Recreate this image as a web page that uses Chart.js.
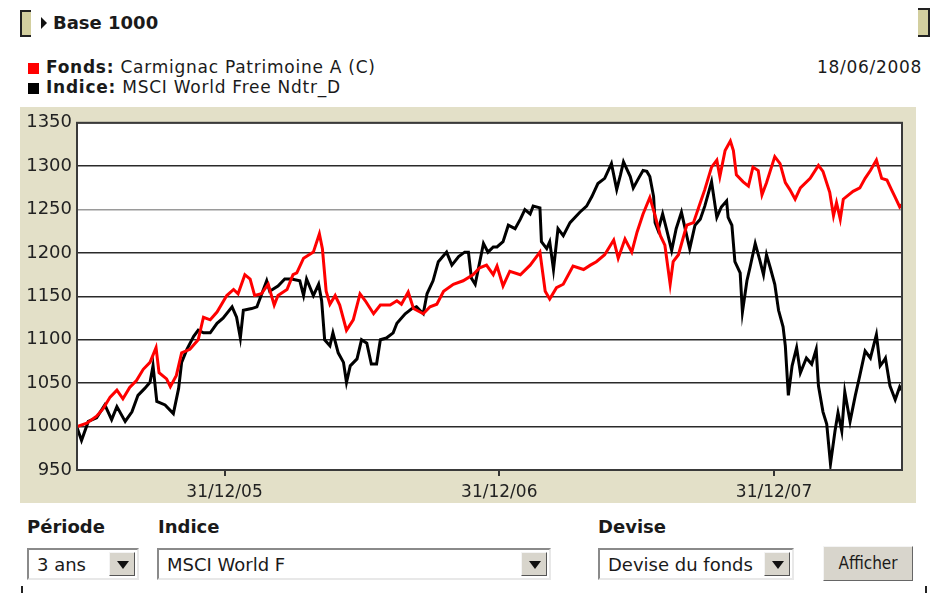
<!DOCTYPE html>
<html lang="fr">
<head>
<meta charset="utf-8">
<title>Base 1000</title>
<script src="https://cdn.jsdelivr.net/npm/chart.js@4.4.1/dist/chart.umd.min.js"></script>
<style>
    body {
        margin: 0;
        width: 941px;
        height: 607px;
        background: #fff;
        position: relative;
        overflow: hidden;
        font-family: "DejaVu Sans", Verdana, sans-serif;
        color: #1a1a1a;
    }
    .abs { position: absolute; white-space: nowrap; }
    .crochet-g { left: 20px; top: 10px; width: 9px; height: 23px; background: #d3cf9f; border: 2px solid #222; border-right: none; }
    .crochet-d { left: 918px; top: 8px; width: 10px; height: 25px; background: #d3cf9f; border: 2px solid #222; border-left: none; }
    .fleche { left: 41px; top: 17px; width: 0; height: 0; border-top: 6px solid transparent; border-bottom: 6px solid transparent; border-left: 6px solid #111; }
    .titre { left: 53px; top: 12px; font-weight: bold; font-size: 18px; }
    .leg { font-size: 17px; letter-spacing: 0.75px; left: 28px; }
    .leg b { font-weight: bold; }
    .carre { display: inline-block; width: 11px; height: 11px; margin-right: 7px; vertical-align: -1px; }
    .date { right: 19px; top: 57px; font-size: 17px; letter-spacing: 0.7px; }
    .panneau { left: 20px; top: 107px; width: 896px; height: 396px; }
    .lib { font-weight: bold; font-size: 18px; top: 516px; }
    .choix { top: 548px; height: 28px; background: #fff; border: 2px solid; border-color: #8a8a8a #e8e8e8 #e8e8e8 #8a8a8a;
             font-size: 18px; line-height: 30px; padding-left: 8px; box-sizing: content-box; }
    .btn-fl { position: absolute; right: 2px; top: 2px; width: 26px; height: 24px; background: #d8d5cc;
              border: 1px solid; border-color: #f4f4f4 #555 #555 #f4f4f4; box-sizing: border-box; }
    .btn-fl::after { content: ""; position: absolute; left: 7px; top: 8px; border-left: 6px solid transparent; border-right: 6px solid transparent; border-top: 8px solid #111; }
    .afficher { left: 823px; top: 546px; width: 90px; height: 35px; background: #d8d5cc; border: 1px solid; border-color: #f4f4f4 #666 #666 #f4f4f4;
                box-sizing: border-box; font-family: "DejaVu Sans Condensed", "DejaVu Sans", sans-serif; font-size: 17px; text-align: center; line-height: 33px; }
    .coin { width: 2px; height: 7px; background: #222; top: 586px; }
</style>
</head>
<body>
<div class="abs crochet-g"></div>
<div class="abs fleche"></div>
<div class="abs titre">Base 1000</div>
<div class="abs crochet-d"></div>

<div class="abs leg" style="top:57px"><span class="carre" style="background:#ff0000"></span><b>Fonds:</b> Carmignac Patrimoine A (C)</div>
<div class="abs leg" style="top:77px"><span class="carre" style="background:#000"></span><b>Indice:</b> MSCI World Free Ndtr_D</div>
<div class="abs date">18/06/2008</div>

<div class="abs panneau"><canvas id="graphique" width="896" height="396"></canvas></div>

<div class="abs lib" style="left:27px">Période</div>
<div class="abs lib" style="left:158px">Indice</div>
<div class="abs lib" style="left:598px">Devise</div>

<div class="abs choix" style="left:27px; width:100px">3 ans<span class="btn-fl"></span></div>
<div class="abs choix" style="left:157px; width:382px">MSCI World F<span class="btn-fl"></span></div>
<div class="abs choix" style="left:598px; width:184px">Devise du fonds<span class="btn-fl"></span></div>
<div class="abs afficher">Afficher</div>
<div class="abs coin" style="left:21px"></div>
<div class="abs coin" style="left:925px"></div>

<script>
// Base 1000 depuis le 18/06/2005 : abscisse en jours écoulés
const finPeriode = 1096;

// Etiquettes de l'axe des dates
const echeances = [196, 561, 926];
const etiquettesDates = ['31/12/05', '31/12/06', '31/12/07'];

// Graduations de l'axe vertical
const baseMin = 950;
const baseMax = 1350;
const pasBase = 50;

// Fonds : Carmignac Patrimoine A (C)
const joursFonds = [0, 13, 26, 35, 44, 53, 61, 70, 79, 88, 97, 105, 109, 119, 124, 132, 139, 150, 161, 168,
    177, 186, 199, 208, 214, 223, 230, 236, 245, 254, 262, 267, 279, 287, 292, 301, 314, 322, 326, 331,
    336, 343, 349, 358, 367, 376, 383, 394, 403, 416, 425, 431, 440, 447, 460, 469, 478, 487, 500, 513,
    526, 535, 544, 553, 558, 566, 575, 589, 602, 615, 622, 628, 637, 646, 659, 673, 682, 690, 701, 713,
    719, 728, 737, 744, 752, 761, 768, 775, 781, 788, 792, 799, 810, 819, 828, 834, 843, 850, 854, 861,
    868, 872, 876, 885, 892, 898, 905, 910, 916, 927, 934, 941, 947, 954, 961, 974, 985, 991, 1000, 1005,
    1009, 1014, 1018, 1031, 1040, 1047, 1054, 1062, 1069, 1076, 1082, 1087, 1093, 1096];
const fonds = [1000, 1004, 1012, 1021, 1034, 1042, 1032, 1045, 1053, 1066, 1074, 1091, 1062, 1055, 1046, 1059, 1085, 1089, 1100, 1126,
    1123, 1132, 1151, 1158, 1153, 1175, 1170, 1151, 1153, 1164, 1140, 1151, 1158, 1175, 1177, 1194, 1201, 1222, 1205, 1156,
    1141, 1151, 1140, 1111, 1123, 1153, 1145, 1130, 1140, 1140, 1145, 1141, 1155, 1136, 1130, 1138, 1141, 1156, 1164, 1168,
    1175, 1183, 1186, 1175, 1185, 1162, 1179, 1175, 1186, 1201, 1156, 1147, 1160, 1164, 1185, 1181, 1186, 1190, 1198, 1215,
    1194, 1216, 1201, 1224, 1245, 1264, 1243, 1220, 1209, 1164, 1190, 1198, 1232, 1235, 1258, 1273, 1299, 1307, 1288, 1318,
    1329, 1318, 1290, 1282, 1277, 1299, 1295, 1267, 1281, 1311, 1303, 1281, 1273, 1262, 1275, 1286, 1301, 1294, 1270, 1243,
    1258, 1239, 1262, 1271, 1275, 1286, 1295, 1307, 1286, 1284, 1273, 1264, 1253, 1256];

// Indice : MSCI World Free Ndtr_D
const joursIndice = [0, 6, 15, 26, 37, 46, 53, 64, 73, 81, 90, 97, 101, 106, 117, 128, 135, 139, 146, 155,
    161, 168, 177, 186, 194, 206, 212, 217, 221, 232, 239, 252, 256, 267, 276, 285, 296, 301, 305, 314,
    321, 325, 329, 336, 340, 347, 354, 358, 363, 372, 378, 385, 391, 398, 403, 411, 420, 425, 436, 445,
    451, 460, 465, 473, 480, 491, 498, 507, 515, 520, 524, 529, 540, 546, 553, 558, 566, 573, 582, 589,
    595, 602, 606, 615, 617, 624, 628, 633, 639, 646, 655, 668, 677, 684, 692, 701, 710, 717, 722, 726,
    735, 739, 746, 752, 757, 761, 766, 768, 772, 778, 783, 790, 796, 803, 810, 814, 821, 828, 834, 843,
    850, 856, 863, 865, 870, 874, 881, 884, 890, 894, 901, 907, 912, 916, 921, 927, 932, 938, 941, 945,
    950, 956, 961, 969, 976, 982, 985, 991, 996, 1001, 1007, 1011, 1016, 1020, 1027, 1034, 1040, 1047, 1054, 1062,
    1067, 1072, 1074, 1080, 1087, 1093, 1096];
const indice = [999, 984, 1006, 1010, 1025, 1008, 1023, 1006, 1017, 1036, 1044, 1051, 1070, 1029, 1025, 1015, 1044, 1074, 1089, 1104,
    1111, 1108, 1108, 1119, 1125, 1138, 1126, 1102, 1134, 1136, 1138, 1168, 1156, 1162, 1170, 1170, 1168, 1151, 1170, 1151,
    1164, 1145, 1100, 1093, 1108, 1085, 1074, 1051, 1070, 1078, 1100, 1096, 1072, 1072, 1100, 1102, 1108, 1119, 1130, 1136,
    1138, 1130, 1153, 1168, 1190, 1201, 1186, 1196, 1201, 1201, 1171, 1164, 1211, 1201, 1207, 1207, 1213, 1232, 1228, 1239,
    1250, 1245, 1254, 1252, 1213, 1205, 1213, 1181, 1228, 1220, 1235, 1247, 1254, 1265, 1280, 1286, 1303, 1273, 1290, 1305,
    1288, 1275, 1286, 1295, 1294, 1288, 1265, 1235, 1226, 1245, 1228, 1203, 1228, 1247, 1220, 1205, 1232, 1239, 1254, 1282,
    1241, 1253, 1260, 1241, 1232, 1190, 1177, 1132, 1168, 1183, 1211, 1192, 1175, 1198, 1183, 1164, 1134, 1115, 1093, 1036,
    1070, 1091, 1062, 1079, 1072, 1089, 1047, 1017, 1003, 957, 995, 1016, 995, 1040, 1006, 1036, 1059, 1087, 1079, 1106,
    1070, 1076, 1079, 1047, 1031, 1046, 1042];

const points = (jours, valeurs) => jours.map((j, i) => ({ x: j, y: valeurs[i] }));

// Fond beige du panneau et zone de tracé blanche avec cadre
const cadrePlugin = {
    id: 'cadre',
    beforeDraw(chart) {
        const { ctx, chartArea: a, width, height } = chart;
        ctx.save();
        ctx.fillStyle = '#e3e0c8';
        ctx.fillRect(0, 0, width, height);
        ctx.fillStyle = '#ffffff';
        ctx.fillRect(a.left, a.top, a.right - a.left, a.bottom - a.top);
        ctx.restore();
    },
    afterDraw(chart) {
        const { ctx, chartArea: a } = chart;
        ctx.save();
        ctx.strokeStyle = '#3a3a3a';
        ctx.lineWidth = 2;
        ctx.strokeRect(a.left, a.top, a.right - a.left, a.bottom - a.top);
        ctx.restore();
    }
};

new Chart(document.getElementById('graphique'), {
    type: 'line',
    data: {
        datasets: [
            {
                label: 'Fonds',
                data: points(joursFonds, fonds),
                borderColor: '#ff0000',
                borderWidth: 3,
                pointRadius: 0,
                tension: 0,
                order: 0
            },
            {
                label: 'Indice',
                data: points(joursIndice, indice),
                borderColor: '#000000',
                borderWidth: 3,
                pointRadius: 0,
                tension: 0,
                order: 1
            }
        ]
    },
    options: {
        responsive: false,
        animation: false,
        layout: { padding: { top: 8, right: 14, left: 0, bottom: 0 } },
        plugins: {
            legend: { display: false },
            tooltip: { enabled: false }
        },
        scales: {
            x: {
                type: 'linear',
                min: 0,
                max: finPeriode,
                afterBuildTicks(scale) {
                    scale.ticks = echeances.map(v => ({ value: v }));
                },
                afterFit(scale) { scale.height = 33; },
                grid: { drawOnChartArea: false, drawTicks: true, tickLength: 6, color: '#333', lineWidth: 2 },
                border: { display: false },
                ticks: {
                    autoSkip: false,
                    maxRotation: 0,
                    padding: 6,
                    color: '#222',
                    font: { family: 'DejaVu Sans', size: 17 },
                    callback: (v) => etiquettesDates[echeances.indexOf(v)]
                }
            },
            y: {
                min: baseMin,
                max: baseMax,
                afterFit(scale) { scale.width = 57; },
                grid: {
                    color: (c) => (c.tick && c.tick.value === 1250 ? '#9a9a9a' : '#2a2a2a'),
                    lineWidth: 1.5,
                    drawTicks: false
                },
                border: { display: false },
                ticks: {
                    stepSize: pasBase,
                    padding: 5,
                    color: '#222',
                    font: { family: 'DejaVu Sans', size: 18 },
                    callback: (v) => String(v)
                }
            }
        }
    },
    plugins: [cadrePlugin]
});
</script>
</body>
</html>
